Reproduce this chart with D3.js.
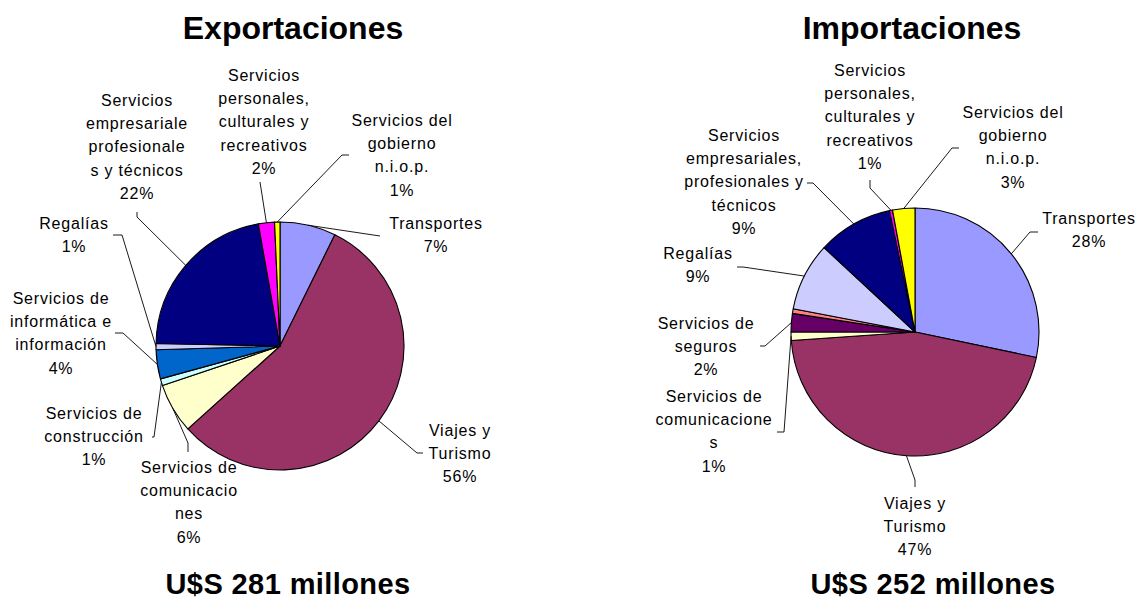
<!DOCTYPE html>
<html>
<head>
<meta charset="utf-8">
<script src="https://cdn.jsdelivr.net/npm/d3@7"></script>
<style>
  body { margin: 0; background: #fff; }
  svg text { font-family: "Liberation Sans", Arial, sans-serif; fill: #000; }
  .lbl { font-size: 16px; letter-spacing: 0.8px; }
  .title { font-size: 32px; font-weight: bold; }
  .total { font-size: 29px; font-weight: bold; letter-spacing: 0.4px; }
</style>
</head>
<body>
<div id="chart"></div>
<script>
// --- data ---
const expCategories = ["Transportes", "Viajes y Turismo", "Servicios de comunicaciones",
  "Servicios de construcción", "Servicios de informática e información", "Regalías",
  "Servicios empresariales, profesionales y técnicos",
  "Servicios personales, culturales y recreativos", "Servicios del gobierno n.i.o.p."];
const expValues = [7.3, 56.1, 6.5, 0.9, 3.8, 0.8, 21.9, 2.1, 0.7];
const expPct = [7, 56, 6, 1, 4, 1, 22, 2, 1];
const expLines = [
  ["Transportes"], ["Viajes y", "Turismo"], ["Servicios de", "comunicacio", "nes"],
  ["Servicios de", "construcción"], ["Servicios de", "informática e", "información"],
  ["Regalías"], ["Servicios", "empresariale", "profesionale", "s y técnicos"],
  ["Servicios", "personales,", "culturales y", "recreativos"],
  ["Servicios del", "gobierno", "n.i.o.p."]
];

const impCategories = ["Transportes", "Viajes y Turismo", "Servicios de comunicaciones",
  "Servicios de seguros", "Servicios financieros", "Regalías",
  "Servicios empresariales, profesionales y técnicos",
  "Servicios personales, culturales y recreativos", "Servicios del gobierno n.i.o.p."];
const impValues = [28.3, 45.6, 1.1, 2.4, 0.6, 8.9, 9.8, 0.4, 2.9];
const impPct = [28, 47, 1, 2, null, 9, 9, 1, 3];
const impLines = [
  ["Transportes"], ["Viajes y", "Turismo"], ["Servicios de", "comunicacione", "s"],
  ["Servicios de", "seguros"], null, ["Regalías"],
  ["Servicios", "empresariales,", "profesionales y", "técnicos"],
  ["Servicios", "personales,", "culturales y", "recreativos"],
  ["Servicios del", "gobierno", "n.i.o.p."]
];

const titles = ["Exportaciones", "Importaciones"];
const totals = ["U$S 281 millones", "U$S 252 millones"];

const colorOf = {
  "Transportes": "#9999ff",
  "Viajes y Turismo": "#993366",
  "Servicios de comunicaciones": "#ffffcc",
  "Servicios de construcción": "#ccffff",
  "Servicios de informática e información": "#0066cc",
  "Servicios de seguros": "#660066",
  "Servicios financieros": "#ff8080",
  "Regalías": "#ccccff",
  "Servicios empresariales, profesionales y técnicos": "#000080",
  "Servicios personales, culturales y recreativos": "#ff00ff",
  "Servicios del gobierno n.i.o.p.": "#ffff00"
};

// label placement relative to pie centre: text centre x, first line y,
// leader elbow and leader end at the label
const expLayout = [
  { x: 156, y: -123, elbow: [100, -110], end: [100, -110] },
  { x: 180, y: 84, elbow: [137, 107], end: [143, 107] },
  { x: -91, y: 121, elbow: [-92, 97], end: [-92, 106] },
  { x: -186, y: 67, elbow: [-126, 91], end: [-128, 91] },
  { x: -219, y: -48, elbow: [-157, -13], end: [-165, -13] },
  { x: -206, y: -123, elbow: [-158, -111], end: [-167, -111] },
  { x: -143, y: -246, elbow: [-143, -129], end: [-143, -134] },
  { x: -16, y: -271, elbow: [-20, -164], end: [-20, -164] },
  { x: 122, y: -226, elbow: [62, -191], end: [69, -191] }
];
const impLayout = [
  { x: 174, y: -114, elbow: [115, -100], end: [123, -100] },
  { x: 0, y: 171, elbow: [0, 148], end: [0, 155] },
  { x: -201, y: 64, elbow: [-131, 100], end: [-138, 100] },
  { x: -209, y: -9, elbow: [-150, 14], end: [-155, 14] },
  null,
  { x: -217, y: -79, elbow: [-172, -65], end: [-178, -65] },
  { x: -171, y: -197, elbow: [-102, -149], end: [-108, -149] },
  { x: -45, y: -262, elbow: [-45, -144], end: [-45, -152] },
  { x: 98, y: -220, elbow: [37, -184], end: [44, -184] }
];

const W = 1138, H = 601, R = 124, lineH = 23.3;

const svg = d3.select("#chart").append("svg")
  .attr("width", W).attr("height", H);

function drawPie(cx, cy, cats, vals, pcts, lines, layout, title, total, titleX, totalX) {
  const g = svg.append("g").attr("transform", "translate(" + cx + "," + cy + ")");
  const data = cats.map((c, i) => ({ cat: c, value: vals[i], pct: pcts[i], lines: lines[i], lay: layout[i] }));

  const pie = d3.pie().sort(null).value(d => d.value);
  const arc = d3.arc().innerRadius(0).outerRadius(R);
  const edge = d3.arc().innerRadius(R).outerRadius(R);
  const arcs = pie(data);

  g.selectAll("path.slice")
    .data(arcs)
    .enter().append("path")
    .attr("class", "slice")
    .attr("d", arc)
    .attr("fill", d => colorOf[d.data.cat])
    .attr("stroke", "#000")
    .attr("stroke-width", 1.1)
    .attr("stroke-linejoin", "round");

  const labeled = arcs.filter(d => d.data.lay);

  g.selectAll("path.leader")
    .data(labeled)
    .enter().append("path")
    .attr("class", "leader")
    .attr("fill", "none")
    .attr("stroke", "#000")
    .attr("stroke-width", 0.9)
    .attr("d", d => {
      const p = edge.centroid(d);
      const e = d.data.lay.elbow, t = d.data.lay.end;
      return "M" + p[0] + "," + p[1] + "L" + e[0] + "," + e[1] + "L" + t[0] + "," + t[1];
    });

  labeled.forEach(d => {
    const txt = d.data.lines.concat([d.data.pct + "%"]);
    g.append("text")
      .attr("class", "lbl")
      .attr("text-anchor", "middle")
      .selectAll("tspan")
      .data(txt)
      .enter().append("tspan")
      .attr("x", d.data.lay.x)
      .attr("y", (s, i) => d.data.lay.y + i * lineH)
      .attr("dy", "0.36em")
      .text(s => s);
  });

  svg.append("text").attr("class", "title")
    .attr("x", titleX).attr("y", 39)
    .attr("text-anchor", "middle")
    .text(title);
  svg.append("text").attr("class", "total")
    .attr("x", totalX).attr("y", 594)
    .attr("text-anchor", "middle")
    .text(total);
}

drawPie(280, 346, expCategories, expValues, expPct, expLines, expLayout, titles[0], totals[0], 293, 288);
drawPie(915, 332, impCategories, impValues, impPct, impLines, impLayout, titles[1], totals[1], 912, 933);
</script>
</body>
</html>
